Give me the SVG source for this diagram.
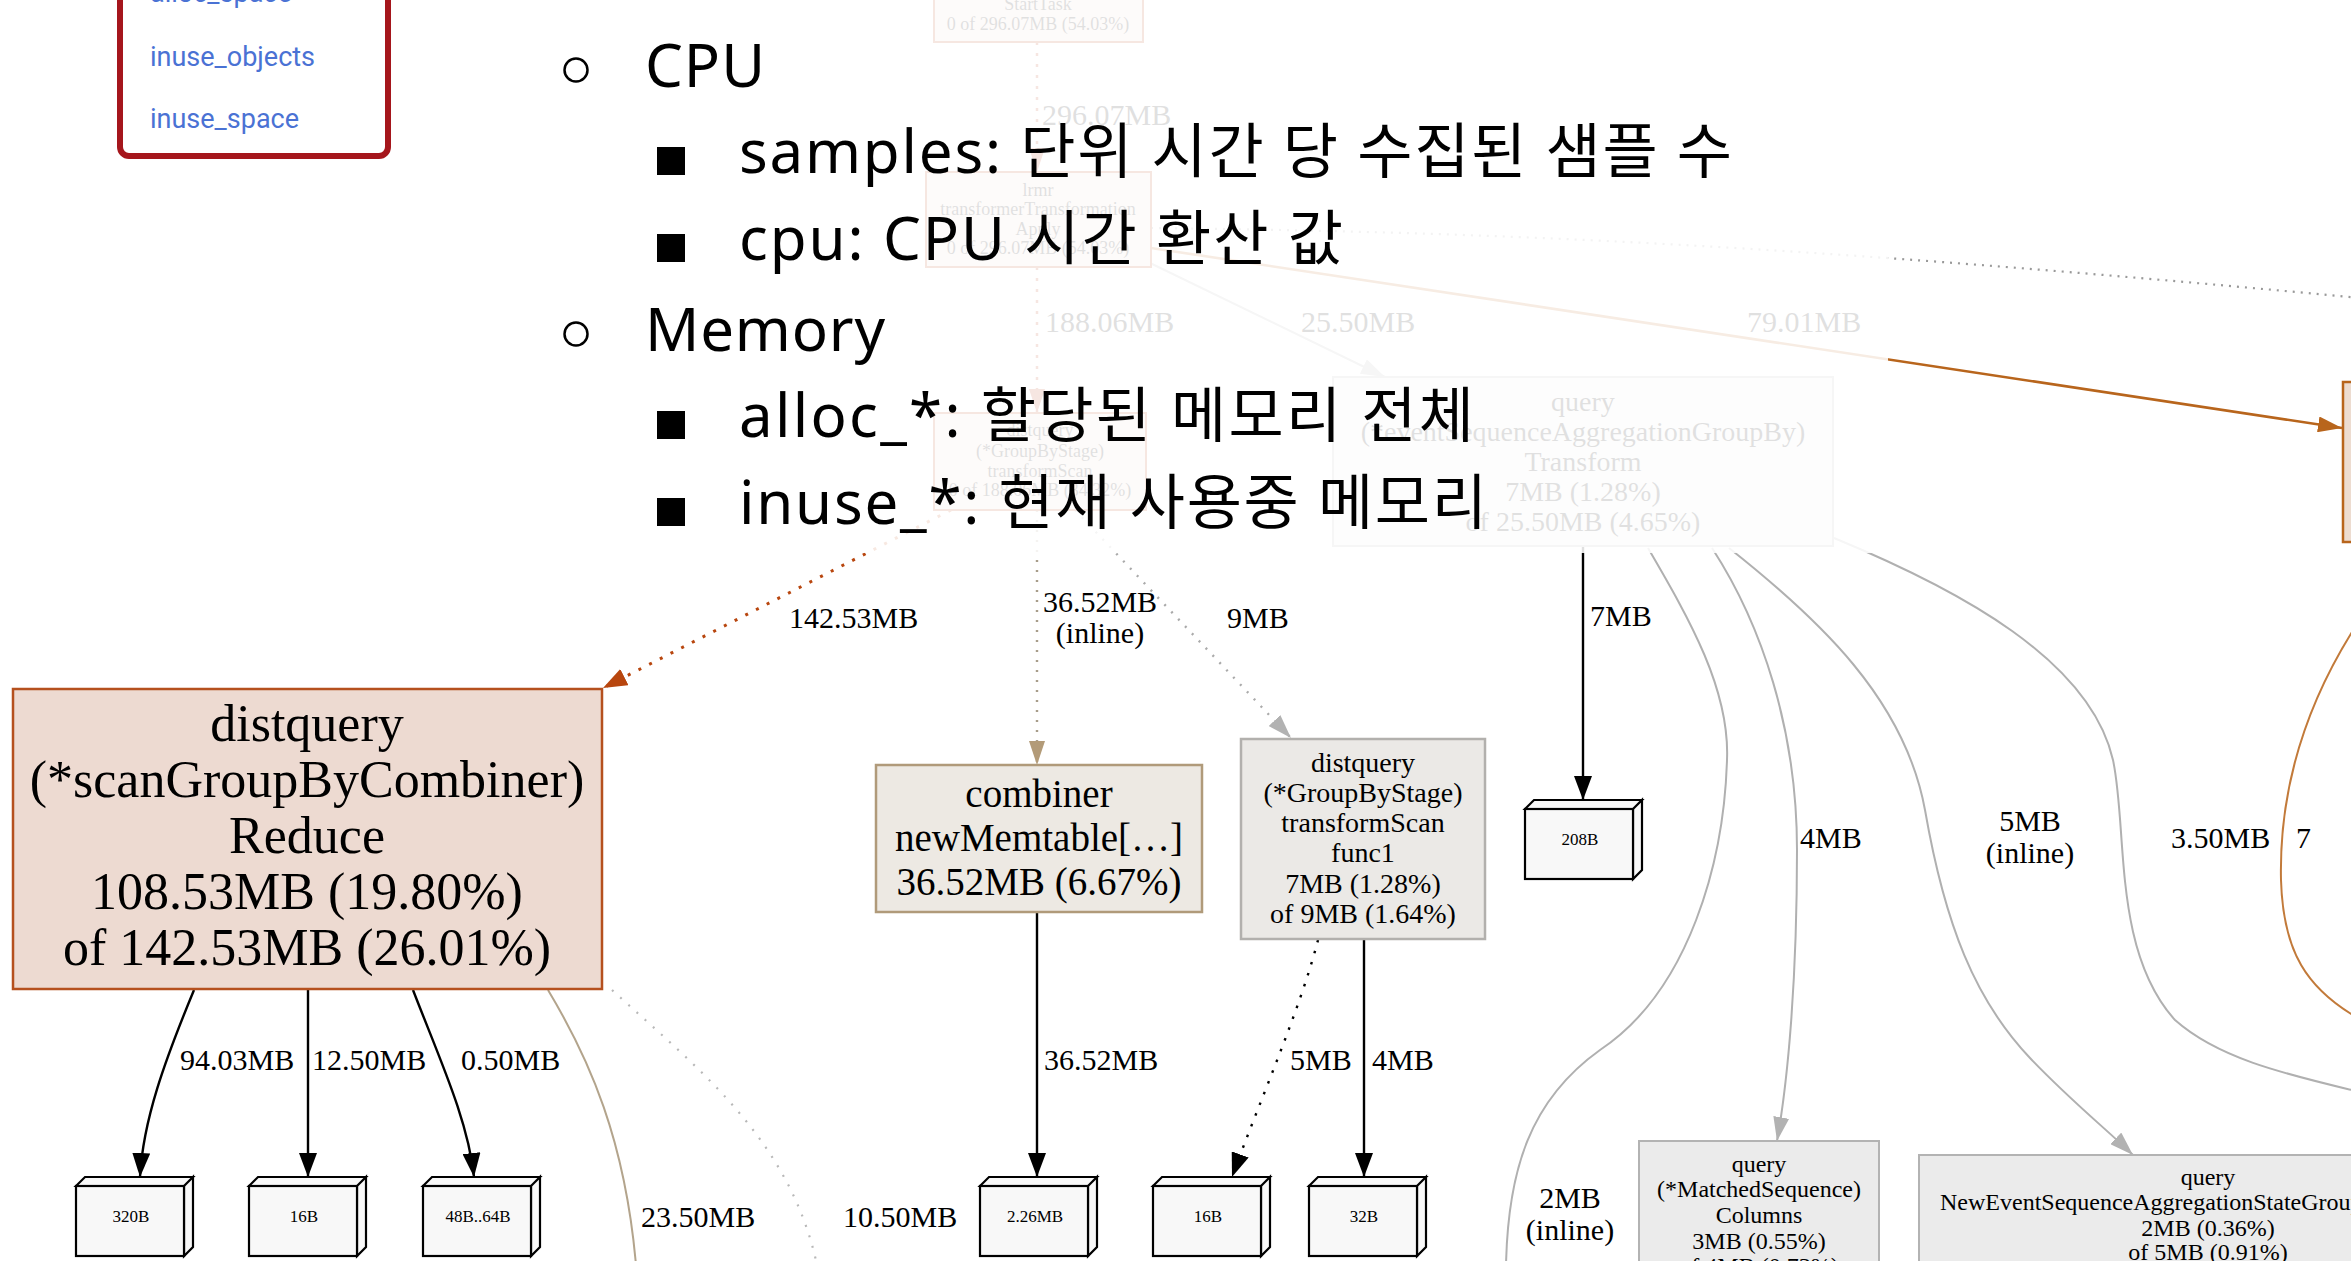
<svg xmlns="http://www.w3.org/2000/svg" xmlns:xlink="http://www.w3.org/1999/xlink" width="2351" height="1261" viewBox="0 0 2351 1261">
  <defs>
    <style>
      .gv text{font-family:"Liberation Serif","Times New Roman",serif;fill:#000}
      .mid{text-anchor:middle}
      .f18{font-size:18px}
      .f24{font-size:24px}
      .f28{font-size:28px}
      .f30{font-size:30px}
      .f39{font-size:39px}
      .f52{font-size:52px}
      .f17{font-size:17px}
      .e{fill:none}
      .solid-k{stroke:#000;stroke-width:2.4}
      .solid-g{stroke:#b0b0b0;stroke-width:2}
      .dot{stroke-linecap:butt}
      .slide{font-family:"Noto Sans","Noto Sans CJK KR",sans-serif;font-size:60px;fill:#000}
      .menu{font-family:Roboto,"Liberation Sans",sans-serif;font-size:27px;fill:#4a72d4}
    </style>
    <marker id="ah-black" viewBox="0 0 24 18" refX="24" refY="9" markerWidth="24" markerHeight="18" markerUnits="userSpaceOnUse" orient="auto"><path d="M0,0 L24,9 L0,18 Z" fill="#000"/></marker>
    <marker id="ah-gray" viewBox="0 0 24 16" refX="24" refY="8" markerWidth="24" markerHeight="16" markerUnits="userSpaceOnUse" orient="auto"><path d="M0,0 L24,8 L0,16 Z" fill="#b2b2b2"/></marker>
    <marker id="ah-tan" viewBox="0 0 24 16" refX="24" refY="8" markerWidth="24" markerHeight="16" markerUnits="userSpaceOnUse" orient="auto"><path d="M0,0 L24,8 L0,16 Z" fill="#b39b78"/></marker>
    <marker id="ah-rust" viewBox="0 0 24 18" refX="24" refY="9" markerWidth="24" markerHeight="18" markerUnits="userSpaceOnUse" orient="auto"><path d="M0,0 L24,9 L0,18 Z" fill="#b8460e"/></marker>
    <marker id="ah-amber" viewBox="0 0 24 16" refX="24" refY="8" markerWidth="24" markerHeight="16" markerUnits="userSpaceOnUse" orient="auto"><path d="M0,0 L24,8 L0,16 Z" fill="#b8651c"/></marker>
    <marker id="ah-red" viewBox="0 0 24 16" refX="24" refY="8" markerWidth="24" markerHeight="16" markerUnits="userSpaceOnUse" orient="auto"><path d="M0,0 L24,8 L0,16 Z" fill="#b2300a"/></marker>
    <!-- allocation-size leaf: graphviz box3d -->
    <g id="cube">
      <path d="M0,9 L9,0 L117,0 L108,9 Z M108,9 L117,0 L117,70 L108,79 Z" fill="#f8f8f8" stroke="#000" stroke-width="2.2" stroke-linejoin="miter"/>
      <rect x="0" y="9" width="108" height="70" fill="#f8f8f8" stroke="#000" stroke-width="2.2"/>
    </g>
  </defs>

  <rect width="2351" height="1261" fill="#fff"/>

  <g class="gv">
    <!-- edges -->
    <g id="connectors">
      <path class="e dot" d="M1037,42 L1037,172" stroke="#b2300a" stroke-width="2.5" stroke-dasharray="3 8" marker-end="url(#ah-red)"/>
      <text class="f30" x="1042" y="125">296.07MB</text>

      <path class="e dot" d="M1037,267 L1037,413" stroke="#b2300a" stroke-width="2.5" stroke-dasharray="3 8" marker-end="url(#ah-red)"/>
      <text class="f30" x="1045" y="332">188.06MB</text>

      <path class="e solid-g" d="M1148,262 L1385,377" marker-end="url(#ah-gray)"/>
      <text class="f30" x="1301" y="332">25.50MB</text>

      <path class="e dot" d="M1151,228 C1500,232 1800,245 2360,298" stroke="#999" stroke-width="2.2" stroke-dasharray="2 6"/>

      <path class="e" d="M1151,248 L2342,428" stroke="#b8651c" stroke-width="2.6" marker-end="url(#ah-amber)"/>
      <text class="f30" x="1747" y="332">79.01MB</text>

      <path class="e dot" d="M951,510 L603,688" stroke="#b8460e" stroke-width="3" stroke-dasharray="3 9" marker-end="url(#ah-rust)"/>
      <text class="f30" x="789" y="628">142.53MB</text>

      <path class="e dot" d="M1037,510 L1037,765" stroke="#a89d8a" stroke-width="2.4" stroke-dasharray="2 8" marker-end="url(#ah-tan)"/>
      <text class="f30 mid" x="1100" y="612">36.52MB</text>
      <text class="f30 mid" x="1100" y="643">(inline)</text>

      <path class="e dot" d="M1075,510 L1291,738" stroke="#aaa" stroke-width="2.4" stroke-dasharray="2 8" marker-end="url(#ah-gray)"/>
      <text class="f30" x="1227" y="628">9MB</text>

      <path class="e solid-k" d="M1583,547 L1583,800" marker-end="url(#ah-black)"/>
      <text class="f30" x="1590" y="626">7MB</text>

      <path class="e solid-g" d="M1648,548 C1690,620 1730,690 1727,760 C1724,860 1690,990 1600,1050 C1530,1100 1508,1170 1506,1265"/>
      <text class="f30 mid" x="1570" y="1208">2MB</text>
      <text class="f30 mid" x="1570" y="1240">(inline)</text>

      <path class="e solid-g" d="M1712,548 C1762,625 1797,730 1797,850 C1797,980 1788,1080 1777,1141" marker-end="url(#ah-gray)"/>
      <text class="f30" x="1800" y="848">4MB</text>

      <path class="e solid-g" d="M1729,548 C1820,620 1905,700 1925,810 C1945,925 1975,1000 2030,1058 C2070,1100 2105,1128 2133,1155" marker-end="url(#ah-gray)"/>
      <text class="f30 mid" x="2030" y="831">5MB</text>
      <text class="f30 mid" x="2030" y="863">(inline)</text>

      <path class="e solid-g" d="M1834,538 C1960,590 2090,660 2113,760 C2128,830 2112,950 2175,1020 C2220,1060 2290,1075 2360,1092"/>
      <text class="f30" x="2171" y="848">3.50MB</text>

      <path class="e" d="M2365,612 C2305,700 2279,790 2281,880 C2283,950 2305,990 2365,1022" stroke="#c27a3a" stroke-width="2"/>
      <text class="f30" x="2296" y="848">7</text>

      <path class="e solid-k" d="M194,990 C165,1060 143,1120 140,1177" marker-end="url(#ah-black)"/>
      <text class="f30" x="180" y="1070">94.03MB</text>
      <path class="e solid-k" d="M308,990 L308,1177" marker-end="url(#ah-black)"/>
      <text class="f30" x="312" y="1070">12.50MB</text>
      <path class="e solid-k" d="M413,990 C440,1060 468,1120 474,1177" marker-end="url(#ah-black)"/>
      <text class="f30" x="461" y="1070">0.50MB</text>

      <path class="e" d="M548,990 C590,1060 625,1140 636,1265" stroke="#b3a48c" stroke-width="2"/>
      <text class="f30" x="641" y="1227">23.50MB</text>
      <path class="e dot" d="M612,990 C700,1070 790,1140 817,1265" stroke="#b8b8b8" stroke-width="2.2" stroke-dasharray="2 9"/>
      <text class="f30" x="843" y="1227">10.50MB</text>

      <path class="e solid-k" d="M1037,912 L1037,1177" marker-end="url(#ah-black)"/>
      <text class="f30" x="1044" y="1070">36.52MB</text>

      <path class="e dot" d="M1318,940 C1300,1010 1260,1100 1232,1177" stroke="#000" stroke-width="2.4" stroke-dasharray="2.5 9" marker-end="url(#ah-black)"/>
      <text class="f30" x="1290" y="1070">5MB</text>
      <path class="e solid-k" d="M1364,940 L1364,1177" marker-end="url(#ah-black)"/>
      <text class="f30" x="1372" y="1070">4MB</text>
    </g>

    <!-- nodes -->
    <g id="node-starttask">
      <rect x="934" y="-40" width="209" height="82" fill="#edd8d2" stroke="#b23a0c" stroke-width="2"/>
      <text class="f18 mid" x="1038" y="10">StartTask</text>
      <text class="f18 mid" x="1038" y="30">0 of 296.07MB (54.03%)</text>
    </g>
    <g id="node-lrmr-apply">
      <rect x="926" y="172" width="225" height="95" fill="#edd8d2" stroke="#b23a0c" stroke-width="2"/>
      <text class="f18 mid" x="1038" y="196">lrmr</text>
      <text class="f18 mid" x="1038" y="215">transformerTransformation</text>
      <text class="f18 mid" x="1038" y="235">Apply</text>
      <text class="f18 mid" x="1038" y="254">0 of 296.07MB (54.03%)</text>
    </g>
    <g id="node-groupbystage-transformscan">
      <rect x="934" y="413" width="212" height="97" fill="#edd8d2" stroke="#b23a0c" stroke-width="2"/>
      <text class="f18 mid" x="1040" y="436">distquery</text>
      <text class="f18 mid" x="1040" y="457">(*GroupByStage)</text>
      <text class="f18 mid" x="1040" y="477">transformScan</text>
      <text class="f18 mid" x="1040" y="496">0 of 188.06MB (34.32%)</text>
    </g>
    <g id="node-eventseq-transform">
      <rect x="1333" y="377" width="500" height="169" fill="#ebebeb" stroke="#b2b2b2" stroke-width="2"/>
      <text class="f28 mid" x="1583" y="411">query</text>
      <text class="f28 mid" x="1583" y="441">(*eventSequenceAggregationGroupBy)</text>
      <text class="f28 mid" x="1583" y="471">Transform</text>
      <text class="f28 mid" x="1583" y="501">7MB (1.28%)</text>
      <text class="f28 mid" x="1583" y="531">of 25.50MB (4.65%)</text>
    </g>
    <g id="node-right">
      <rect x="2343" y="382" width="60" height="160" fill="#eddcd0" stroke="#b8651c" stroke-width="2.5"/>
    </g>
    <g id="node-reduce">
      <rect x="13" y="689" width="589" height="300" fill="#eddad1" stroke="#b5501e" stroke-width="2.5"/>
      <text class="f52 mid" x="307" y="741">distquery</text>
      <text class="f52 mid" x="307" y="797">(*scanGroupByCombiner)</text>
      <text class="f52 mid" x="307" y="853">Reduce</text>
      <text class="f52 mid" x="307" y="909">108.53MB (19.80%)</text>
      <text class="f52 mid" x="307" y="965">of 142.53MB (26.01%)</text>
    </g>
    <g id="node-combiner">
      <rect x="876" y="765" width="326" height="147" fill="#ede9e3" stroke="#b09a7a" stroke-width="2.5"/>
      <text class="f39 mid" x="1039" y="807">combiner</text>
      <text class="f39 mid" x="1039" y="851">newMemtable[…]</text>
      <text class="f39 mid" x="1039" y="895">36.52MB (6.67%)</text>
    </g>
    <g id="node-transformscan-func1">
      <rect x="1241" y="739" width="244" height="200" fill="#ebe9e6" stroke="#b2b0ad" stroke-width="2.5"/>
      <text class="f28 mid" x="1363" y="772">distquery</text>
      <text class="f28 mid" x="1363" y="802">(*GroupByStage)</text>
      <text class="f28 mid" x="1363" y="832">transformScan</text>
      <text class="f28 mid" x="1363" y="862">func1</text>
      <text class="f28 mid" x="1363" y="893">7MB (1.28%)</text>
      <text class="f28 mid" x="1363" y="923">of 9MB (1.64%)</text>
    </g>
    <g id="node-matchedsequence">
      <rect x="1639" y="1141" width="240" height="160" fill="#ebebeb" stroke="#b3b3b3" stroke-width="2"/>
      <text class="f24 mid" x="1759" y="1172">query</text>
      <text class="f24 mid" x="1759" y="1197">(*MatchedSequence)</text>
      <text class="f24 mid" x="1759" y="1223">Columns</text>
      <text class="f24 mid" x="1759" y="1249">3MB (0.55%)</text>
      <text class="f24 mid" x="1759" y="1274">of 4MB (0.73%)</text>
    </g>
    <g id="node-neweventseq">
      <rect x="1919" y="1155" width="480" height="150" fill="#ebebeb" stroke="#b3b3b3" stroke-width="2"/>
      <text class="f24 mid" x="2208" y="1185">query</text>
      <text class="f24" x="1940" y="1210">NewEventSequenceAggregationStateGroup</text>
      <text class="f24 mid" x="2208" y="1236">2MB (0.36%)</text>
      <text class="f24 mid" x="2208" y="1260">of 5MB (0.91%)</text>
    </g>
    <g id="leaf-320b"><use xlink:href="#cube" x="76" y="1177"/><text class="f17 mid" x="131" y="1222">320B</text></g>
    <g id="leaf-16b-a"><use xlink:href="#cube" x="249" y="1177"/><text class="f17 mid" x="304" y="1222">16B</text></g>
    <g id="leaf-48b-64b"><use xlink:href="#cube" x="423" y="1177"/><text class="f17 mid" x="478" y="1222">48B..64B</text></g>
    <g id="leaf-2-26mb"><use xlink:href="#cube" x="980" y="1177"/><text class="f17 mid" x="1035" y="1222">2.26MB</text></g>
    <g id="leaf-16b-b"><use xlink:href="#cube" x="1153" y="1177"/><text class="f17 mid" x="1208" y="1222">16B</text></g>
    <g id="leaf-32b"><use xlink:href="#cube" x="1309" y="1177"/><text class="f17 mid" x="1364" y="1222">32B</text></g>
    <g id="leaf-208b"><use xlink:href="#cube" x="1525" y="800"/><text class="f17 mid" x="1580" y="845">208B</text></g>
  </g>

  <!-- white wash behind the notes -->
  <rect id="wash" x="0" y="0" width="1888" height="553" fill="#fff" opacity="0.88"/>

  <!-- sample type menu -->
  <g id="sample-menu">
    <rect x="120" y="-30" width="268" height="186" rx="9" fill="#fff" stroke="#a5161c" stroke-width="6"/>
    <text class="menu" x="150" y="2">alloc_space</text>
    <text class="menu" x="150" y="66">inuse_objects</text>
    <text class="menu" x="150" y="128">inuse_space</text>
  </g>

  <!-- bullet notes -->
  <g id="notes">
    <circle cx="576" cy="70" r="11.5" fill="none" stroke="#000" stroke-width="2.5"/>
    <text class="slide" x="645" y="87" textLength="120">CPU</text>
    <rect x="657" y="147" width="28" height="28" fill="#000"/>
    <text class="slide" x="739" y="173" textLength="993">samples: 단위 시간 당 수집된 샘플 수</text>
    <rect x="657" y="234" width="28" height="28" fill="#000"/>
    <text class="slide" x="739" y="260" textLength="604">cpu: CPU 시간 환산 값</text>
    <circle cx="576" cy="334" r="11.5" fill="none" stroke="#000" stroke-width="2.5"/>
    <text class="slide" x="645" y="351" textLength="240">Memory</text>
    <rect x="657" y="411" width="28" height="28" fill="#000"/>
    <text class="slide" x="739" y="437" textLength="735">alloc_*: 할당된 메모리 전체</text>
    <rect x="657" y="498" width="28" height="28" fill="#000"/>
    <text class="slide" x="739" y="524" textLength="748">inuse_*: 현재 사용중 메모리</text>
  </g>
</svg>
